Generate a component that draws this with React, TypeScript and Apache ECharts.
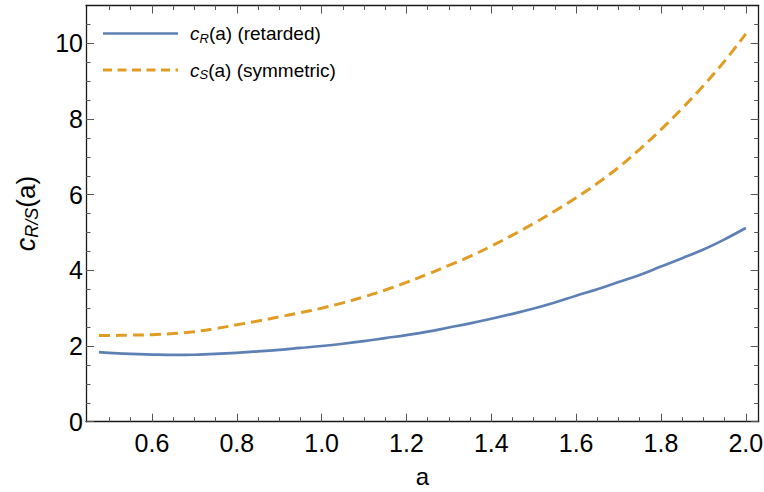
import React, { useEffect, useRef } from "react";
import * as echarts from "echarts";

// ---- data ----
const aValues = [
  0.475, 0.5, 0.55, 0.6, 0.65, 0.7, 0.75, 0.8, 0.85, 0.9, 0.95, 1.0, 1.05, 1.1, 1.15, 1.2,
  1.25, 1.3, 1.35, 1.4, 1.45, 1.5, 1.55, 1.6, 1.65, 1.7, 1.75, 1.8, 1.85, 1.9, 1.95, 2.0,
];
const cRetarded = [
  1.84, 1.82, 1.79, 1.775, 1.765, 1.77, 1.79, 1.82, 1.86, 1.9, 1.95, 2.0, 2.06, 2.13, 2.21, 2.29,
  2.38, 2.49, 2.6, 2.72, 2.85, 2.99, 3.15, 3.33, 3.5, 3.69, 3.88, 4.1, 4.32, 4.55, 4.82, 5.12,
];
const cSymmetric = [
  2.28, 2.28, 2.29, 2.3, 2.33, 2.38, 2.46, 2.56, 2.66, 2.77, 2.88, 3.0, 3.14, 3.3, 3.48, 3.68,
  3.9, 4.13, 4.37, 4.64, 4.93, 5.24, 5.57, 5.92, 6.3, 6.72, 7.2, 7.72, 8.28, 8.88, 9.53, 10.25,
];
const seriesNames = ["c_R(a) (retarded)", "c_S(a) (symmetric)"];
const xMajorTicks = [0.6, 0.8, 1.0, 1.2, 1.4, 1.6, 1.8, 2.0];
const xMinorTicks = [
  0.5, 0.55, 0.65, 0.7, 0.75, 0.85, 0.9, 0.95, 1.05, 1.1, 1.15, 1.25, 1.3, 1.35, 1.45, 1.5,
  1.55, 1.65, 1.7, 1.75, 1.85, 1.9, 1.95,
];
const yMajorTicks = [0, 2, 4, 6, 8, 10];
const yMinorTicks = [0.5, 1, 1.5, 2.5, 3, 3.5, 4.5, 5, 5.5, 6.5, 7, 7.5, 8.5, 9, 9.5, 10.5];

const X_MIN = 0.4445;
const X_MAX = 2.0305;
const Y_MIN = 0;
const Y_MAX = 11;

const BLUE = "#5E81B5";
const ORANGE = "#E19C24";
const FONT = "'Liberation Sans', Arial, Helvetica, sans-serif";
const FRAME = "#1a1a1a";
const TICK = "#555555";

export default function App() {
  const ref = useRef<HTMLDivElement>(null);

  useEffect(() => {
    document.body.style.margin = "0";
    if (!ref.current) return;
    const chart = echarts.init(ref.current, null, { renderer: "svg" });

    const xAxisBase = (position: "top" | "bottom", major: boolean, showLine: boolean, labels: boolean, name?: string) => ({
      type: "value" as const,
      gridIndex: 0,
      position,
      min: X_MIN,
      max: X_MAX,
      splitLine: { show: false },
      axisLine: { show: showLine, onZero: false, lineStyle: { color: FRAME, width: 1.3 } },
      axisTick: {
        show: true,
        inside: true,
        length: major ? 8 : 4.5,
        customValues: major ? xMajorTicks : xMinorTicks,
        lineStyle: { color: TICK, width: 1 },
      },
      axisLabel: {
        show: labels,
        customValues: xMajorTicks,
        formatter: (v: number) => v.toFixed(1),
        fontSize: 25,
        fontFamily: FONT,
        color: "#000",
        margin: 9,
      },
      name: name ?? "",
      nameLocation: "middle" as const,
      nameGap: 48,
      nameTextStyle: { fontSize: 24, lineHeight: 14, fontFamily: FONT, color: "#000" },
    });

    const yAxisBase = (position: "left" | "right", major: boolean, showLine: boolean, labels: boolean, withName: boolean) => ({
      type: "value" as const,
      gridIndex: 0,
      position,
      min: Y_MIN,
      max: Y_MAX,
      splitLine: { show: false },
      axisLine: { show: showLine, onZero: false, lineStyle: { color: FRAME, width: 1.3 } },
      axisTick: {
        show: true,
        inside: true,
        length: major ? 8 : 4.5,
        customValues: major ? yMajorTicks : yMinorTicks,
        lineStyle: { color: TICK, width: 1 },
      },
      axisLabel: {
        show: labels,
        customValues: yMajorTicks,
        formatter: (v: number) => String(v),
        fontSize: 25,
        fontFamily: FONT,
        color: "#000",
        margin: 3,
      },
      name: withName ? "{i|c}{s|R/S}{n|(a)}" : "",
      nameLocation: "middle" as const,
      nameGap: 45,
      nameRotate: 90,
      nameTextStyle: {
        fontSize: 26,
        fontFamily: FONT,
        color: "#000",
        rich: {
          i: { fontSize: 27, fontStyle: "italic", fontFamily: FONT, color: "#000", lineHeight: 30, verticalAlign: "middle" },
          s: { fontSize: 18, fontStyle: "italic", fontFamily: FONT, color: "#000", lineHeight: 17, verticalAlign: "bottom" },
          n: { fontSize: 26, fontFamily: FONT, color: "#000", lineHeight: 30, verticalAlign: "middle" },
        },
      },
    });

    const legendRich = {
      i: { fontSize: 19, fontStyle: "italic", fontFamily: FONT, fill: "#000", lineHeight: 22, verticalAlign: "middle" },
      s: { fontSize: 13, fontStyle: "italic", fontFamily: FONT, fill: "#000", lineHeight: 13, verticalAlign: "bottom" },
      n: { fontSize: 19, fontFamily: FONT, fill: "#000", lineHeight: 22, verticalAlign: "middle" },
    };

    chart.setOption({
      animation: false,
      backgroundColor: "#ffffff",
      grid: { left: 86, right: 5.3, top: 5.5, bottom: 70.3, containLabel: false, outerBoundsMode: "none" },
      xAxis: [
        xAxisBase("bottom", true, true, true, "a"),
        xAxisBase("bottom", false, false, false),
        xAxisBase("top", true, true, false),
        xAxisBase("top", false, false, false),
      ],
      yAxis: [
        yAxisBase("left", true, true, true, true),
        yAxisBase("left", false, false, false, false),
        yAxisBase("right", true, true, false, false),
        yAxisBase("right", false, false, false, false),
      ],
      series: [
        {
          name: seriesNames[0],
          type: "line",
          xAxisIndex: 0,
          yAxisIndex: 0,
          data: aValues.map((a, i) => [a, cRetarded[i]]),
          showSymbol: false,
          smooth: 0.4,
          lineStyle: { color: BLUE, width: 2.7 },
          itemStyle: { color: BLUE },
        },
        {
          name: seriesNames[1],
          type: "line",
          xAxisIndex: 0,
          yAxisIndex: 0,
          data: aValues.map((a, i) => [a, cSymmetric[i]]),
          showSymbol: false,
          smooth: 0.4,
          lineStyle: { color: ORANGE, width: 3, type: [11, 6] },
          itemStyle: { color: ORANGE },
        },
      ],
      graphic: [
        { type: "line", shape: { x1: 103, y1: 33.5, x2: 178, y2: 33.5 }, style: { stroke: BLUE, lineWidth: 2.7 } },
        {
          type: "line",
          shape: { x1: 103, y1: 70, x2: 178, y2: 70 },
          style: { stroke: ORANGE, lineWidth: 2.8, lineDash: [9, 5.5] },
        },
        {
          type: "text",
          x: 190,
          y: 33.5,
          style: {
            text: "{i|c}{s|R}{n|(a) (retarded)}",
            rich: legendRich,
            verticalAlign: "middle",
            fontFamily: FONT,
            fontSize: 19,
            fill: "#000",
          },
        },
        {
          type: "text",
          x: 190,
          y: 70,
          style: {
            text: "{i|c}{s|S}{n|(a) (symmetric)}",
            rich: legendRich,
            verticalAlign: "middle",
            fontFamily: FONT,
            fontSize: 19,
            fill: "#000",
          },
        },
      ],
    });

    return () => {
      chart.dispose();
    };
  }, []);

  return <div ref={ref} style={{ width: 764, height: 492 }} />;
}
